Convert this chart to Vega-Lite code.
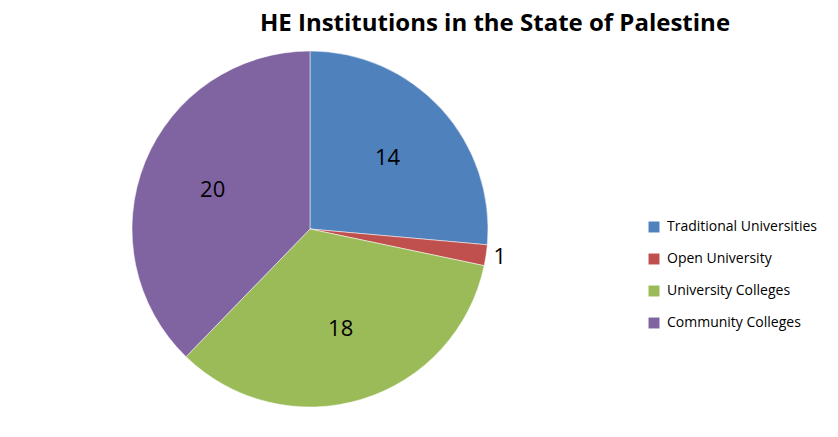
{
  "$schema": "https://vega.github.io/schema/vega-lite/v6.json",
  "width": 610,
  "height": 366,
  "padding": {"top": 12, "left": 5, "right": 5, "bottom": 5},
  "background": "white",
  "title": {
    "text": "HE Institutions in the State of Palestine",
    "font": "Open Sans",
    "fontSize": 24,
    "fontWeight": "bold",
    "color": "#000000",
    "anchor": "middle",
    "dx": 185,
    "offset": 10
  },
  "data": {
    "values": [
      {"category": "Traditional Universities", "count": 14, "idx": 1},
      {"category": "Open University", "count": 1, "idx": 2},
      {"category": "University Colleges", "count": 18, "idx": 3},
      {"category": "Community Colleges", "count": 20, "idx": 4}
    ]
  },
  "encoding": {
    "theta": {"field": "count", "type": "quantitative", "stack": true},
    "order": {"field": "idx", "type": "quantitative"},
    "color": {
      "field": "category",
      "type": "nominal",
      "sort": ["Traditional Universities", "Open University", "University Colleges", "Community Colleges"],
      "scale": {
        "domain": ["Traditional Universities", "Open University", "University Colleges", "Community Colleges"],
        "range": ["#4F81BD", "#C0504D", "#9BBB59", "#8064A2"]
      },
      "legend": {
        "title": null,
        "orient": "none",
        "legendX": 642,
        "legendY": 174,
        "symbolType": "square",
        "symbolSize": 120,
        "symbolStrokeWidth": 0,
        "labelFont": "Open Sans",
        "labelFontSize": 14,
        "labelColor": "#000000",
        "rowPadding": 18,
        "labelOffset": 6
      }
    }
  },
  "layer": [
    {
      "mark": {"type": "arc", "outerRadius": 178, "stroke": "#ffffff", "strokeWidth": 0.5}
    },
    {
      "mark": {
        "type": "text",
        "font": "Open Sans",
        "fontSize": 22,
        "radius": {"expr": "datum.count < 5 ? 192 : 105"}
      },
      "encoding": {
        "text": {"field": "count", "type": "quantitative"},
        "color": {"value": "#000000"}
      }
    }
  ]
}
